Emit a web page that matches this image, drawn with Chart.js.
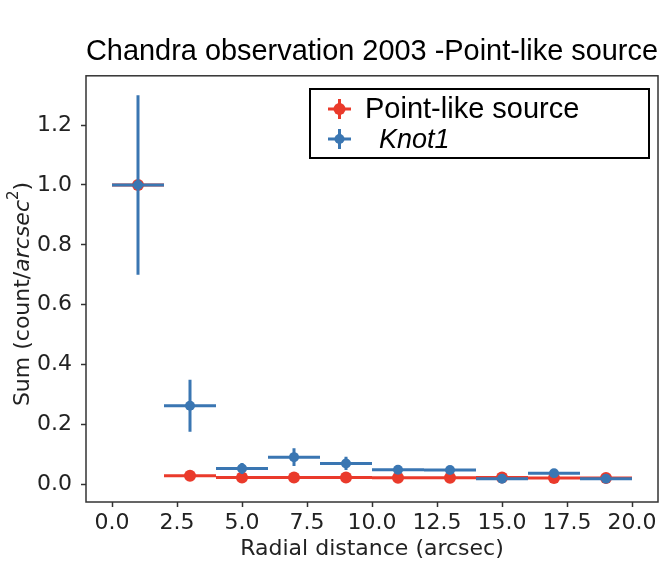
<!DOCTYPE html>
<html>
<head>
<meta charset="utf-8">
<script src="https://cdn.jsdelivr.net/npm/chart.js@4.4.0/dist/chart.umd.min.js"></script>
<style>
  html, body { margin: 0; padding: 0; background: #fff; }
</style>
</head>
<body>
<canvas id="chart" width="666" height="566"></canvas>
<script>
// radial bins (arcsec) and half widths
const radius = [1, 3, 5, 7, 9, 11, 13, 15, 17, 19];
const binHalf = [1, 1, 1, 1, 1, 1, 1, 1, 1, 1];

// Point-like source
const pointSum = [1.0, 0.028, 0.022, 0.022, 0.022, 0.021, 0.021, 0.022, 0.020, 0.020];
const pointErr = [0.003, 0.003, 0.002, 0.002, 0.002, 0.002, 0.002, 0.002, 0.002, 0.002];

// Knot1
const knotSum = [1.0, 0.262, 0.052, 0.090, 0.069, 0.048, 0.047, 0.018, 0.036, 0.018];
const knotErr = [0.30, 0.087, 0.018, 0.030, 0.022, 0.010, 0.010, 0.007, 0.009, 0.007];

const xTicks = [0, 2.5, 5, 7.5, 10, 12.5, 15, 17.5, 20];
const yTicks = [0, 0.2, 0.4, 0.6, 0.8, 1.0, 1.2];

const RED = '#ea3a2b';
const BLUE = '#3a76b2';
const TICK_FONT = { family: 'DejaVu Sans', size: 22 };

function toPoints(ys) {
    return radius.map((x, i) => ({ x: x, y: ys[i] }));
}

// draws the x/y error bars of a dataset just before its markers
const errorBars = {
    id: 'errorBars',
    beforeDatasetDraw(chart, args) {
        const ds = chart.data.datasets[args.index];
        const xs = chart.scales.x, ys = chart.scales.y;
        const ctx = chart.ctx;
        ctx.save();
        ctx.strokeStyle = ds.barColor;
        ctx.lineWidth = 3;
        ds.data.forEach((p, i) => {
            const px = xs.getPixelForValue(p.x);
            const py = ys.getPixelForValue(p.y);
            ctx.beginPath();
            ctx.moveTo(xs.getPixelForValue(p.x - ds.xErr[i]), py);
            ctx.lineTo(xs.getPixelForValue(p.x + ds.xErr[i]), py);
            ctx.moveTo(px, ys.getPixelForValue(p.y - ds.yErr[i]));
            ctx.lineTo(px, ys.getPixelForValue(p.y + ds.yErr[i]));
            ctx.stroke();
        });
        ctx.restore();
    }
};

// frame, legend box and the y axis label (mixed styles)
const decorations = {
    id: 'decorations',
    afterDraw(chart) {
        const ctx = chart.ctx;
        const a = chart.chartArea;
        ctx.save();
        ctx.strokeStyle = '#333';
        ctx.lineWidth = 1.5;
        ctx.strokeRect(a.left, a.top, a.right - a.left, a.bottom - a.top);

        // legend
        ctx.fillStyle = '#fff';
        ctx.fillRect(310, 89, 339, 69);
        ctx.strokeStyle = '#000';
        ctx.lineWidth = 2;
        ctx.strokeRect(310, 89, 339, 69);

        const entries = [
            { label: 'Point-like source', color: RED, r: 6, y: 109, x: 365, font: '29px "Liberation Sans"' },
            { label: 'Knot1', color: BLUE, r: 5, y: 139, x: 379, font: 'italic 27px "Liberation Sans"' }
        ];
        entries.forEach(e => {
            ctx.strokeStyle = e.color;
            ctx.lineWidth = 3;
            ctx.beginPath();
            ctx.moveTo(328, e.y); ctx.lineTo(351, e.y);
            ctx.moveTo(339.5, e.y - 10); ctx.lineTo(339.5, e.y + 10);
            ctx.stroke();
            ctx.fillStyle = e.color;
            ctx.beginPath();
            ctx.arc(339.5, e.y, e.r, 0, Math.PI * 2);
            ctx.fill();
            ctx.fillStyle = '#000';
            ctx.font = e.font;
            ctx.textBaseline = 'middle';
            ctx.textAlign = 'left';
            ctx.fillText(e.label, e.x, e.y + 1);
        });

        // y axis label: Sum (count/arcsec^2)
        const parts = [
            { t: 'Sum (count/', f: '22px "DejaVu Sans"', dy: 0 },
            { t: 'arcsec', f: 'italic 22px "DejaVu Sans"', dy: 0 },
            { t: '2', f: '15px "DejaVu Sans"', dy: -9 },
            { t: ')', f: '22px "DejaVu Sans"', dy: 0 }
        ];
        let total = 0;
        parts.forEach(p => { ctx.font = p.f; p.w = ctx.measureText(p.t).width; total += p.w; });
        ctx.translate(23, 294);
        ctx.rotate(-Math.PI / 2);
        ctx.fillStyle = '#222';
        ctx.textBaseline = 'middle';
        let cx = -total / 2;
        parts.forEach(p => {
            ctx.font = p.f;
            ctx.fillText(p.t, cx, p.dy);
            cx += p.w;
        });
        ctx.restore();
    }
};

new Chart(document.getElementById('chart'), {
    type: 'scatter',
    data: {
        datasets: [
            {
                label: 'Point-like source',
                data: toPoints(pointSum),
                xErr: binHalf,
                yErr: pointErr,
                barColor: RED,
                backgroundColor: RED,
                borderWidth: 0,
                pointRadius: 6,
                order: 2
            },
            {
                label: 'Knot1',
                data: toPoints(knotSum),
                xErr: binHalf,
                yErr: knotErr,
                barColor: BLUE,
                backgroundColor: BLUE,
                borderWidth: 0,
                pointRadius: 5,
                order: 1
            }
        ]
    },
    options: {
        responsive: false,
        animation: false,
        events: [],
        layout: { padding: { left: 0, right: 8, top: 0, bottom: 0 } },
        plugins: {
            legend: { display: false },
            tooltip: { enabled: false },
            title: {
                display: true,
                text: 'Chandra observation 2003 -Point-like source',
                color: '#000',
                fullSize: false,
                font: { family: 'Liberation Sans', size: 29, weight: 'normal', lineHeight: 1.2 },
                padding: { top: 35, bottom: 6 }
            }
        },
        scales: {
            x: {
                type: 'linear',
                min: -1,
                max: 21,
                afterBuildTicks: s => { s.ticks = xTicks.map(v => ({ value: v })); },
                afterFit: s => { s.height = 64; },
                ticks: {
                    font: TICK_FONT,
                    color: '#222',
                    padding: 3,
                    maxRotation: 0,
                    autoSkip: false,
                    callback: v => v.toFixed(1)
                },
                grid: { drawOnChartArea: false, drawTicks: true, tickLength: 5, tickColor: '#333', tickWidth: 1.5 },
                border: { display: false },
                title: {
                    display: true,
                    text: 'Radial distance (arcsec)',
                    color: '#222',
                    font: { family: 'DejaVu Sans', size: 22, lineHeight: 1.2 },
                    padding: { top: 0, bottom: 4 }
                }
            },
            y: {
                type: 'linear',
                min: -0.06,
                max: 1.365,
                afterBuildTicks: s => { s.ticks = yTicks.map(v => ({ value: v })); },
                afterFit: s => { s.width = 86; },
                ticks: {
                    font: TICK_FONT,
                    color: '#222',
                    padding: 9,
                    callback: v => v.toFixed(1)
                },
                grid: { drawOnChartArea: false, drawTicks: true, tickLength: 5, tickColor: '#333', tickWidth: 1.5 },
                border: { display: false }
            }
        }
    },
    plugins: [errorBars, decorations]
});
</script>
</body>
</html>
